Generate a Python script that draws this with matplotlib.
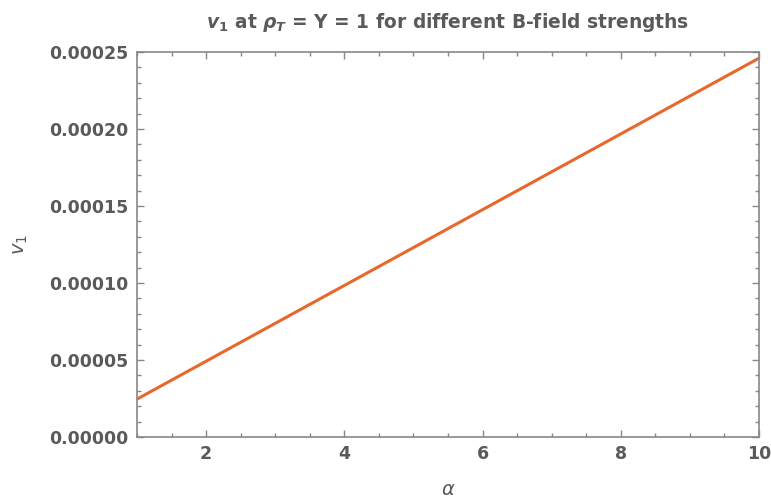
import matplotlib
matplotlib.use("Agg")
import matplotlib.pyplot as plt
from matplotlib.ticker import MultipleLocator, FormatStrFormatter

# alpha (B-field strength parameter) and the resulting directed flow v1
alpha = [1.0, 4.0, 10.0]
v1 = [0.0000246, 0.0000984, 0.000246]

x_major = [2, 4, 6, 8, 10]
y_major = [0.0, 0.00005, 0.0001, 0.00015, 0.0002, 0.00025]

text_color = "#5a5a5a"
frame_color = "#888888"
line_color = "#E8682C"

plt.rcParams["font.family"] = ["DejaVu Sans"]
plt.rcParams["mathtext.fontset"] = "dejavusans"

fig = plt.figure(figsize=(7.71, 5.01), dpi=100)
ax = fig.add_axes([137 / 771, 64 / 501, (759 - 137) / 771, (437 - 52) / 501])

ax.plot(alpha, v1, color=line_color, linewidth=2.2, solid_capstyle="butt")

ax.set_xlim(1, 10)
ax.set_ylim(0, 0.00025)
ax.set_xticks(x_major)
ax.set_yticks(y_major)
ax.xaxis.set_minor_locator(MultipleLocator(0.5))
ax.yaxis.set_minor_locator(MultipleLocator(0.00001))
ax.yaxis.set_major_formatter(FormatStrFormatter("%.5f"))

for s in ax.spines.values():
    s.set_color(frame_color)
    s.set_linewidth(1.2)

ax.tick_params(which="both", direction="in", top=True, right=True,
               color=frame_color, width=1.0, labelcolor=text_color,
               labelsize=12.5)
ax.tick_params(which="major", length=5, pad=6)
ax.tick_params(which="minor", length=3)
ax.tick_params(axis="x", labeltop=False)
ax.tick_params(axis="y", labelright=False)
for lbl in ax.get_xticklabels() + ax.get_yticklabels():
    lbl.set_fontweight("bold")

ax.set_xlabel(r"$\alpha$", color=text_color, fontsize=14, labelpad=12)
ax.set_ylabel(r"$v_1$", color=text_color, fontsize=14, labelpad=14)
ax.set_title(r"$\mathbfit{v}_{\mathbf{1}}$ at $\mathbfit{\rho}_{\mathbfit{T}}$ = Y = 1 for different B-field strengths",
             color=text_color, fontsize=13.4, fontweight="bold", pad=17)

fig.savefig("out.png", dpi=100)
